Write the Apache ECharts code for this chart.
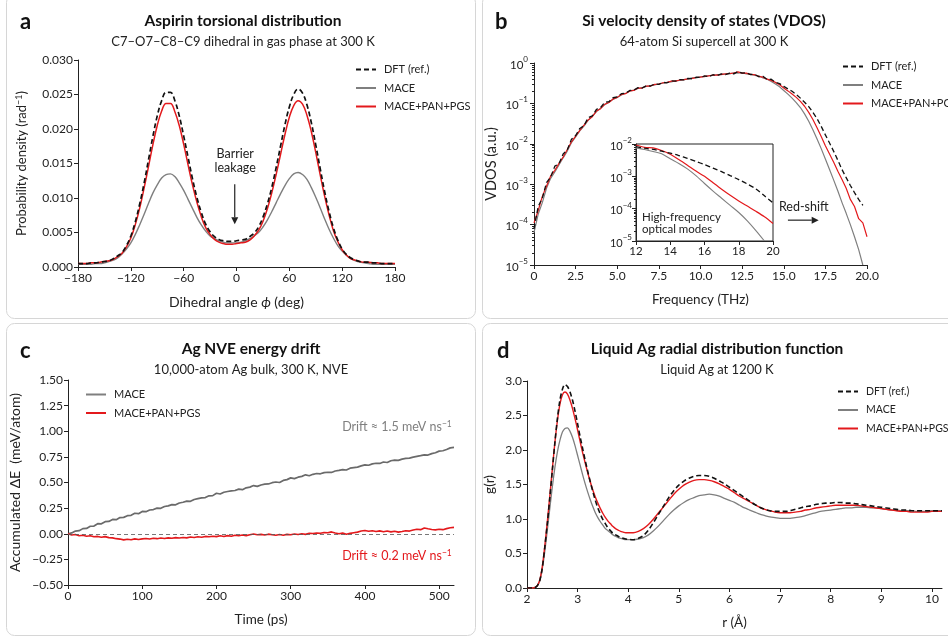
<!DOCTYPE html>
<html><head><meta charset="utf-8">
<script src="https://cdn.jsdelivr.net/npm/echarts@6/dist/echarts.min.js"></script>
<style>html,body{margin:0;padding:0;background:#fff}#c{width:948px;height:641px}</style>
</head><body><div id="c"></div>
<script>
// ---------- Panel a: aspirin torsional distribution ----------
const anglesA = [-180,-175,-170,-165,-160,-155,-150,-145,-140,-135,-130,-125,-120,-115,-110,-105,-100,-95,-90,-85,-80,-75,-70,-65,-60,-55,-50,-45,-40,-35,-30,-25,-20,-15,-10,-5,0,5,10,15,20,25,30,35,40,45,50,55,60,65,70,75,80,85,90,95,100,105,110,115,120,125,130,135,140,145,150,155,160,165,170,175,180];
const dftA = [0.0005,0.0005,0.0005,0.0006,0.0006,0.0007,0.0008,0.0009,0.0012,0.0016,0.0021,0.0031,0.0045,0.0065,0.0091,0.0121,0.0155,0.0189,0.0219,0.0241,0.0253,0.0253,0.0241,0.0219,0.0190,0.0159,0.0128,0.0101,0.0079,0.0062,0.0051,0.0044,0.0040,0.0038,0.0037,0.0037,0.0038,0.0039,0.0040,0.0044,0.0049,0.0058,0.0072,0.0091,0.0115,0.0144,0.0175,0.0206,0.0232,0.0250,0.0258,0.0252,0.0235,0.0209,0.0177,0.0143,0.0110,0.0081,0.0057,0.0039,0.0026,0.0018,0.0013,0.0010,0.0008,0.0007,0.0007,0.0006,0.0006,0.0005,0.0005,0.0005,0.0005];
const maceA = [0.0004,0.0004,0.0004,0.0004,0.0005,0.0005,0.0006,0.0008,0.0010,0.0013,0.0019,0.0026,0.0035,0.0047,0.0061,0.0076,0.0092,0.0107,0.0119,0.0129,0.0134,0.0135,0.0131,0.0122,0.0111,0.0098,0.0085,0.0072,0.0061,0.0052,0.0045,0.0041,0.0038,0.0036,0.0035,0.0035,0.0035,0.0036,0.0038,0.0041,0.0045,0.0050,0.0058,0.0068,0.0080,0.0093,0.0106,0.0118,0.0128,0.0135,0.0137,0.0134,0.0127,0.0115,0.0101,0.0086,0.0070,0.0055,0.0042,0.0031,0.0023,0.0017,0.0012,0.0009,0.0007,0.0006,0.0005,0.0004,0.0004,0.0004,0.0004,0.0004,0.0004];
const panA = [0.0005,0.0005,0.0005,0.0006,0.0006,0.0007,0.0008,0.0009,0.0011,0.0015,0.0020,0.0029,0.0042,0.0061,0.0085,0.0114,0.0145,0.0177,0.0205,0.0226,0.0237,0.0237,0.0225,0.0205,0.0178,0.0148,0.0119,0.0094,0.0073,0.0057,0.0047,0.0040,0.0036,0.0034,0.0033,0.0033,0.0034,0.0035,0.0036,0.0039,0.0045,0.0053,0.0066,0.0084,0.0107,0.0134,0.0163,0.0192,0.0217,0.0234,0.0241,0.0236,0.0220,0.0196,0.0166,0.0134,0.0103,0.0076,0.0053,0.0037,0.0025,0.0017,0.0012,0.0010,0.0008,0.0007,0.0007,0.0006,0.0006,0.0005,0.0005,0.0005,0.0005];

// ---------- Panel b: Si VDOS ----------
const freqB = [0,0.25,0.5,0.75,1,1.25,1.5,1.75,2,2.25,2.5,2.75,3,3.25,3.5,3.75,4,4.25,4.5,4.75,5,5.25,5.5,5.75,6,6.25,6.5,6.75,7,7.25,7.5,7.75,8,8.25,8.5,8.75,9,9.25,9.5,9.75,10,10.25,10.5,10.75,11,11.25,11.5,11.75,12,12.25,12.5,12.75,13,13.25,13.5,13.75,14,14.25,14.5,14.75,15,15.25,15.5,15.75,16,16.25,16.5,16.75,17,17.25,17.5,17.75,18,18.25,18.5,18.75,19,19.25,19.5,19.75,20];
const dftB = [7.9e-5,2.8e-4,4.5e-4,1.1e-3,1.5e-3,2.8e-3,3.2e-3,5.6e-3,7.1e-3,0.013,0.016,0.024,0.028,0.044,0.049,0.071,0.079,0.107,0.110,0.138,0.145,0.174,0.178,0.209,0.214,0.245,0.240,0.275,0.269,0.302,0.295,0.331,0.324,0.363,0.355,0.389,0.380,0.417,0.407,0.447,0.437,0.479,0.457,0.513,0.490,0.537,0.513,0.562,0.537,0.617,0.562,0.575,0.513,0.525,0.457,0.468,0.389,0.398,0.331,0.309,0.263,0.229,0.200,0.166,0.135,0.107,0.083,0.060,0.042,0.027,0.0166,0.0105,0.0065,0.0039,0.0023,0.00145,0.00093,0.00062,0.00042,0.0003,null];
const maceB = [6.3e-5,1.8e-4,3.5e-4,7.9e-4,1.4e-3,2.0e-3,3.0e-3,4.5e-3,6.6e-3,0.0107,0.0148,0.0209,0.0275,0.038,0.0479,0.063,0.0759,0.0933,0.107,0.126,0.141,0.162,0.178,0.200,0.214,0.234,0.245,0.263,0.275,0.288,0.302,0.316,0.331,0.339,0.363,0.372,0.389,0.398,0.427,0.427,0.457,0.457,0.490,0.490,0.513,0.513,0.537,0.537,0.575,0.562,0.575,0.537,0.537,0.490,0.479,0.427,0.398,0.347,0.302,0.257,0.209,0.170,0.135,0.105,0.079,0.055,0.036,0.0224,0.0132,0.0076,0.0042,0.0023,0.00126,0.00068,0.00035,0.00019,0.0001,5.0e-5,2.4e-5,1.0e-5,null];
const panB = [1.1e-4,2.2e-4,5.0e-4,8.9e-4,1.6e-3,2.2e-3,3.3e-3,4.7e-3,7.2e-3,0.0112,0.0155,0.0214,0.0288,0.0389,0.0468,0.0646,0.0741,0.0955,0.105,0.129,0.141,0.166,0.174,0.204,0.209,0.240,0.240,0.269,0.269,0.295,0.302,0.324,0.331,0.355,0.355,0.380,0.389,0.407,0.417,0.437,0.447,0.468,0.479,0.501,0.501,0.525,0.537,0.550,0.562,0.603,0.562,0.562,0.525,0.513,0.468,0.447,0.398,0.372,0.331,0.288,0.240,0.204,0.170,0.141,0.112,0.085,0.060,0.040,0.025,0.0151,0.0089,0.0056,0.0035,0.0021,0.0013,0.00079,0.00042,0.00028,0.00014,0.00011,5.0e-5];
// inset: high-frequency optical modes
const freqInset = [12,12.5,13,13.5,14,14.5,15,15.5,16,16.5,17,17.5,18,18.5,19,19.5,20];
const dftInset = [8.3e-3,7.4e-3,6.8e-3,6.0e-3,5.2e-3,4.4e-3,3.6e-3,2.9e-3,2.3e-3,1.8e-3,1.4e-3,1.05e-3,7.9e-4,5.8e-4,4.1e-4,2.5e-4,1.5e-4];
const maceInset = [7.6e-3,6.8e-3,5.9e-3,5.0e-3,3.5e-3,2.5e-3,1.7e-3,1.05e-3,6.0e-4,3.5e-4,2.1e-4,1.26e-4,7.6e-5,4.2e-5,2.1e-5,1.0e-5,null];
const panInset = [9.3e-3,7.9e-3,7.6e-3,6.3e-3,4.8e-3,3.3e-3,2.2e-3,1.45e-3,1.0e-3,6.3e-4,4.0e-4,2.6e-4,1.74e-4,1.2e-4,8.3e-5,5.6e-5,3.5e-5];

// ---------- Panel c: Ag NVE energy drift ----------
const timeC = [0,5,10,15,20,25,30,35,40,45,50,55,60,65,70,75,80,85,90,95,100,105,110,115,120,125,130,135,140,145,150,155,160,165,170,175,180,185,190,195,200,205,210,215,220,225,230,235,240,245,250,255,260,265,270,275,280,285,290,295,300,305,310,315,320,325,330,335,340,345,350,355,360,365,370,375,380,385,390,395,400,405,410,415,420,425,430,435,440,445,450,455,460,465,470,475,480,485,490,495,500,505,510,515,520];
const maceC = [0.000,0.008,0.026,0.030,0.050,0.052,0.073,0.075,0.098,0.097,0.118,0.120,0.140,0.137,0.158,0.160,0.176,0.180,0.200,0.196,0.218,0.215,0.232,0.236,0.250,0.248,0.266,0.272,0.284,0.282,0.300,0.307,0.318,0.316,0.334,0.342,0.350,0.353,0.370,0.372,0.395,0.388,0.405,0.412,0.418,0.422,0.435,0.430,0.448,0.455,0.470,0.462,0.476,0.484,0.486,0.498,0.505,0.500,0.520,0.528,0.545,0.538,0.552,0.560,0.575,0.566,0.580,0.588,0.585,0.596,0.600,0.598,0.612,0.618,0.625,0.622,0.640,0.645,0.650,0.662,0.672,0.668,0.682,0.688,0.686,0.700,0.695,0.712,0.718,0.716,0.728,0.735,0.738,0.748,0.755,0.762,0.770,0.768,0.782,0.790,0.806,0.810,0.822,0.838,0.842];
const panC = [0.000,-0.012,-0.008,-0.020,-0.015,-0.024,-0.020,-0.030,-0.026,-0.034,-0.028,-0.038,-0.040,-0.048,-0.052,-0.060,-0.054,-0.058,-0.050,-0.056,-0.050,-0.046,-0.052,-0.044,-0.048,-0.042,-0.046,-0.040,-0.044,-0.038,-0.042,-0.036,-0.040,-0.032,-0.036,-0.030,-0.034,-0.026,-0.030,-0.024,-0.028,-0.020,-0.026,-0.018,-0.024,-0.015,-0.020,-0.012,-0.018,-0.010,-0.002,-0.010,-0.006,-0.012,-0.004,-0.010,-0.015,-0.008,-0.014,-0.006,-0.010,-0.002,-0.008,0.000,-0.006,0.004,0.002,0.008,0.004,0.012,0.010,0.018,0.008,0.000,0.006,-0.004,0.004,0.010,0.016,0.026,0.032,0.024,0.030,0.022,0.028,0.020,0.026,0.018,0.024,0.016,0.022,0.030,0.026,0.036,0.044,0.040,0.056,0.048,0.042,0.038,0.044,0.040,0.050,0.058,0.062];

// ---------- Panel d: liquid Ag g(r) ----------
const rD = [2.00,2.05,2.10,2.15,2.20,2.25,2.30,2.35,2.40,2.45,2.50,2.55,2.60,2.65,2.70,2.75,2.80,2.85,2.90,2.95,3.00,3.05,3.10,3.15,3.20,3.25,3.30,3.35,3.40,3.45,3.50,3.55,3.60,3.65,3.70,3.75,3.80,3.85,3.90,3.95,4.00,4.1,4.2,4.3,4.4,4.5,4.6,4.7,4.8,4.9,5.0,5.1,5.2,5.3,5.4,5.5,5.6,5.7,5.8,5.9,6.0,6.1,6.2,6.3,6.4,6.5,6.6,6.7,6.8,6.9,7.0,7.1,7.2,7.3,7.4,7.5,7.6,7.7,7.8,7.9,8.0,8.1,8.2,8.3,8.4,8.5,8.6,8.7,8.8,8.9,9.0,9.1,9.2,9.3,9.4,9.5,9.6,9.7,9.8,9.9,10.0,10.1,10.2];
const dftD = [0,0,0,0.005,0.03,0.10,0.28,0.58,0.92,1.30,1.70,2.10,2.45,2.72,2.88,2.95,2.92,2.84,2.72,2.56,2.38,2.19,2.02,1.85,1.69,1.54,1.40,1.27,1.16,1.07,0.99,0.93,0.87,0.83,0.79,0.77,0.75,0.73,0.72,0.71,0.705,0.70,0.72,0.76,0.84,0.95,1.07,1.19,1.31,1.41,1.49,1.55,1.59,1.62,1.63,1.63,1.62,1.59,1.55,1.51,1.46,1.41,1.36,1.31,1.26,1.21,1.17,1.14,1.12,1.11,1.11,1.11,1.12,1.14,1.16,1.18,1.19,1.21,1.22,1.23,1.23,1.24,1.24,1.23,1.23,1.22,1.21,1.20,1.19,1.18,1.17,1.16,1.15,1.14,1.13,1.13,1.12,1.12,1.12,1.12,1.12,1.12,1.12];
const maceD = [0,0,0,0.005,0.03,0.10,0.27,0.52,0.83,1.15,1.46,1.74,1.97,2.14,2.26,2.31,2.32,2.27,2.18,2.06,1.92,1.78,1.64,1.51,1.39,1.28,1.18,1.09,1.02,0.96,0.91,0.86,0.83,0.80,0.77,0.75,0.73,0.72,0.71,0.70,0.70,0.70,0.71,0.73,0.77,0.83,0.90,0.98,1.06,1.13,1.19,1.24,1.28,1.31,1.34,1.35,1.36,1.35,1.33,1.30,1.27,1.24,1.20,1.16,1.13,1.10,1.07,1.05,1.03,1.02,1.01,1.01,1.01,1.02,1.03,1.05,1.07,1.09,1.11,1.12,1.13,1.14,1.15,1.16,1.16,1.17,1.17,1.17,1.16,1.16,1.15,1.14,1.13,1.13,1.12,1.12,1.12,1.11,1.11,1.11,1.12,1.12,1.12];
const panD = [0,0,0,0.005,0.03,0.11,0.30,0.60,0.95,1.33,1.72,2.10,2.42,2.66,2.80,2.84,2.81,2.72,2.60,2.45,2.29,2.12,1.96,1.81,1.67,1.54,1.42,1.32,1.23,1.15,1.08,1.02,0.97,0.93,0.89,0.86,0.84,0.82,0.81,0.80,0.80,0.80,0.82,0.86,0.92,1.00,1.09,1.18,1.27,1.36,1.43,1.49,1.53,1.56,1.57,1.57,1.56,1.54,1.51,1.47,1.43,1.38,1.33,1.29,1.25,1.21,1.17,1.14,1.12,1.10,1.09,1.09,1.09,1.10,1.11,1.13,1.14,1.16,1.17,1.18,1.19,1.20,1.20,1.20,1.20,1.20,1.19,1.18,1.17,1.16,1.15,1.14,1.13,1.12,1.11,1.11,1.10,1.10,1.10,1.10,1.11,1.11,1.11];

// tick labels
const xTicksC = [0,100,200,300,400,500];
const xTicksD = [2,3,4,5,6,7,8,9,10];

// ---------- styles ----------
const FONT = 'Lato';
const RED = '#e3191c', GRAY = '#7f7f7f', GRAY_C = '#6a6a6a', BLACK = '#111111', TXT = '#222222';
const NAMES = ['DFT (ref.)', 'MACE', 'MACE+PAN+PGS'];
const minus = s => String(s).replace('-', '\u2212');

const chart = echarts.init(document.getElementById('c'), null, {renderer: 'canvas'});
const pairs = (xs, ys) => xs.map((x, i) => [x, ys[i]]);

function axis(gi, o) {
  return Object.assign({
    gridIndex: gi, type: 'value',
    axisLine: {show: true, onZero: false, lineStyle: {color: TXT, width: 1}},
    axisTick: {show: true, length: 4, lineStyle: {color: TXT, width: 1}},
    axisLabel: {color: TXT, fontSize: 12, fontFamily: FONT, margin: 5},
    splitLine: {show: false},
    nameLocation: 'middle',
    nameTextStyle: {color: TXT, fontSize: 13.5, fontFamily: FONT}
  }, o);
}
function line(name, xi, yi, data, color, width, dashed, z, smooth) {
  return {
    type: 'line', name, xAxisIndex: xi, yAxisIndex: yi, data,
    showSymbol: false, symbol: 'none', smooth: smooth || false, z: z || 2,
    lineStyle: {color, width, type: dashed ? [5, 3] : 'solid'},
    itemStyle: {color}, silent: true, animation: false, clip: true
  };
}
const supRich = (size) => ({
  n: {fontSize: size, color: TXT, fontFamily: FONT},
  s: {fontSize: Math.round(size * 0.7), color: TXT, fontFamily: FONT, verticalAlign: 'top'}
});
const logFmt = v => {
  const e = Math.round(Math.log10(v));
  return '{b|10}{s|' + (e < 0 ? '\u2212' + (-e) : e) + '}';
};
const logRich = (size) => ({
  b: {fontSize: size, color: TXT, fontFamily: FONT, verticalAlign: 'bottom', padding: [4, 0, 0, 0]},
  s: {fontSize: Math.round(size * 0.72), color: TXT, fontFamily: FONT, verticalAlign: 'top'}
});

const grids = [
  {left: 78, top: 60, width: 317, height: 207},      // a
  {left: 534, top: 63, width: 333, height: 202},     // b
  {left: 636, top: 144, width: 137, height: 97, show: true, borderColor: TXT, borderWidth: 1, backgroundColor: '#fff', z: 5}, // inset
  {left: 68, top: 380, width: 386, height: 205},     // c
  {left: 527, top: 381, width: 415, height: 207}     // d
];

const xAxes = [
  axis(0, {min: -180, max: 180, interval: 60, axisLabel: {color: TXT, fontSize: 12, fontFamily: FONT, margin: 5, formatter: minus},
    name: '{n|Dihedral angle }{i|\u03d5}{n| (deg)}', nameGap: 28,
    nameTextStyle: {rich: {n: {fontSize: 14, color: TXT, fontFamily: FONT}, i: {fontSize: 14, color: TXT, fontFamily: FONT, fontStyle: 'italic'}}}}),
  axis(1, {min: 0, max: 20, interval: 2.5, axisLabel: {color: TXT, fontSize: 12, fontFamily: FONT, margin: 5, formatter: v => v === 0 ? '0' : v.toFixed(1)},
    name: 'Frequency (THz)', nameGap: 28}),
  axis(2, {min: 12, max: 20, interval: 2, z: 6, axisLabel: {color: TXT, fontSize: 11.5, fontFamily: FONT, margin: 4}}),
  axis(3, {min: 0, max: 520, axisTick: {show: true, length: 4, lineStyle: {color: TXT}, customValues: xTicksC},
    axisLabel: {color: TXT, fontSize: 12, fontFamily: FONT, margin: 5, customValues: xTicksC},
    name: 'Time (ps)', nameGap: 28}),
  axis(4, {min: 2, max: 10.2, axisTick: {show: true, length: 4, lineStyle: {color: TXT}, customValues: xTicksD},
    axisLabel: {color: TXT, fontSize: 12, fontFamily: FONT, margin: 5, customValues: xTicksD},
    name: 'r (\u00c5)', nameGap: 28})
];
const yAxes = [
  axis(0, {min: 0, max: 0.03, interval: 0.005, axisLabel: {color: TXT, fontSize: 12, fontFamily: FONT, margin: 5, formatter: v => v.toFixed(3)},
    name: '{n|Probability density (rad}{s|\u22121}{n|)}', nameGap: 50, nameTextStyle: {rich: supRich(13)}}),
  axis(1, {type: 'log', logBase: 10, min: 1e-5, max: 1,
    axisLabel: {formatter: logFmt, rich: logRich(11.5), margin: 6},
    minorTick: {show: true, splitNumber: 9, length: 2, lineStyle: {color: TXT}},
    name: 'VDOS (a.u.)', nameGap: 35, nameTextStyle: {color: TXT, fontSize: 14.5, fontFamily: FONT}}),
  axis(2, {type: 'log', logBase: 10, min: 1e-5, max: 1e-2, z: 6,
    axisLabel: {formatter: logFmt, rich: logRich(11), margin: 4},
    minorTick: {show: true, splitNumber: 9, length: 2, lineStyle: {color: TXT}}}),
  axis(3, {min: -0.5, max: 1.5, interval: 0.25, axisLabel: {color: TXT, fontSize: 12, fontFamily: FONT, margin: 5, formatter: v => minus(v.toFixed(2))},
    name: 'Accumulated \u0394E  (meV/atom)', nameGap: 46, nameTextStyle: {color: TXT, fontSize: 14, fontFamily: FONT}}),
  axis(4, {min: 0, max: 3, interval: 0.5, axisLabel: {color: TXT, fontSize: 12, fontFamily: FONT, margin: 5, formatter: v => v.toFixed(1)},
    name: 'g(r)', nameGap: 30})
];

const series = [
  // a
  line(NAMES[1], 0, 0, pairs(anglesA, maceA), GRAY, 1.4, false, 2, 0.4),
  line(NAMES[2], 0, 0, pairs(anglesA, panA), RED, 1.5, false, 3, 0.4),
  line(NAMES[0], 0, 0, pairs(anglesA, dftA), BLACK, 1.7, true, 4, 0.4),
  // b
  line(NAMES[1], 1, 1, pairs(freqB, maceB), GRAY, 1.2, false, 2),
  line(NAMES[2], 1, 1, pairs(freqB, panB), RED, 1.2, false, 3),
  line(NAMES[0], 1, 1, pairs(freqB, dftB), BLACK, 1.3, true, 4),
  // inset
  line(NAMES[1], 2, 2, pairs(freqInset, maceInset), GRAY, 1.1, false, 7, 0.3),
  line(NAMES[2], 2, 2, pairs(freqInset, panInset), RED, 1.2, false, 8, 0.3),
  line(NAMES[0], 2, 2, pairs(freqInset, dftInset), BLACK, 1.3, true, 9, 0.3),
  // c
  Object.assign(line(NAMES[1], 3, 3, pairs(timeC, maceC), GRAY_C, 1.7, false, 3), {
    markLine: {silent: true, symbol: 'none', label: {show: false}, animation: false,
      lineStyle: {color: '#555', width: 0.8, type: [4, 3]}, data: [{yAxis: 0}]}
  }),
  line(NAMES[2], 3, 3, pairs(timeC, panC), RED, 1.6, false, 4),
  // d
  line(NAMES[1], 4, 4, pairs(rD, maceD), GRAY, 1.3, false, 2, 0.3),
  line(NAMES[2], 4, 4, pairs(rD, panD), RED, 1.4, false, 3, 0.3),
  line(NAMES[0], 4, 4, pairs(rD, dftD), BLACK, 1.6, true, 4, 0.3)
];

function leg(data, left, top, fs) {
  return {data, left, top, orient: 'vertical', itemWidth: 20, itemHeight: 10, itemGap: 7.5, padding: 0,
    selectedMode: false, itemStyle: {opacity: 0},
    textStyle: {fontSize: fs || 11, color: TXT, fontFamily: FONT, padding: [0, 0, 0, 3]}};
}
const legends = [
  leg(NAMES, 355, 64),
  leg(NAMES, 842, 61),
  leg([NAMES[1], NAMES[2]], 85, 389),
  leg(NAMES, 837, 386, 10.5)
];

function ttl(text, sub, cx, top) {
  return {text, subtext: sub, left: cx, top, textAlign: 'center', itemGap: 6,
    textStyle: {fontSize: 15.5, fontWeight: 'bold', color: '#111', fontFamily: FONT},
    subtextStyle: {fontSize: 13, color: TXT, fontFamily: FONT}};
}
function letter(t, x, y) {
  return {text: t, left: x, top: y, textStyle: {fontSize: 22, fontWeight: 'bold', color: '#111', fontFamily: FONT}};
}
const titles = [
  ttl('Aspirin torsional distribution', 'C7\u2013O7\u2013C8\u2013C9 dihedral in gas phase at 300 K', 238, 8),
  ttl('Si velocity density of states (VDOS)', '64-atom Si supercell at 300 K', 699, 8),
  ttl('Ag NVE energy drift', '10,000-atom Ag bulk, 300 K, NVE', 246, 336),
  ttl('Liquid Ag radial distribution function', 'Liquid Ag at 1200 K', 712, 336),
  letter('a', 15, 6), letter('b', 490, 6), letter('c', 15, 335), letter('d', 492, 335)
];

const panelBoxes = [
  [6, -6, 469, 324], [482, -6, 480, 324], [6, 323, 469, 312], [482, 323, 480, 312]
].map(b => ({type: 'rect', shape: {x: b[0] + 0.5, y: b[1] + 0.5, width: b[2], height: b[3], r: 8},
  style: {fill: 'none', stroke: '#d6d6d6', lineWidth: 1}, z: -10, silent: true}));

chart.setOption({
  animation: false,
  textStyle: {fontFamily: FONT},
  title: titles,
  legend: legends,
  grid: grids,
  xAxis: xAxes,
  yAxis: yAxes,
  series,
  graphic: panelBoxes
});

// ---------- annotations positioned in data coordinates ----------
const P = (gi, x, y) => chart.convertToPixel({gridIndex: gi}, [x, y]);
function arrow(p0, p1, color) {
  const dx = p1[0] - p0[0], dy = p1[1] - p0[1];
  const L = Math.hypot(dx, dy), ux = dx / L, uy = dy / L;
  const hl = 7, hw = 3.5;
  const bx = p1[0] - ux * hl, by = p1[1] - uy * hl;
  return [
    {type: 'line', shape: {x1: p0[0], y1: p0[1], x2: bx, y2: by}, style: {stroke: color, lineWidth: 1.2}, z: 20, silent: true},
    {type: 'polygon', shape: {points: [[p1[0], p1[1]], [bx - uy * hw, by + ux * hw], [bx + uy * hw, by - ux * hw]]},
      style: {fill: color}, z: 20, silent: true}
  ];
}
function txt(p, text, opts) {
  return Object.assign({type: 'text', x: p[0], y: p[1], z: 20, silent: true,
    style: Object.assign({text, fontSize: 12.5, fontFamily: FONT, fill: TXT, align: 'center', verticalAlign: 'middle', lineHeight: 14.5}, opts || {})});
}
const ann = [];
ann.push(txt(P(0, -1.5, 0.01535), 'Barrier\nleakage'));
ann.push(...arrow(P(0, -2, 0.0120), P(0, -2, 0.0062), TXT));
ann.push(txt(P(1, 16.2, Math.pow(10, -3.57)), 'Red-shift'));
ann.push(...arrow(P(1, 15.25, Math.pow(10, -3.89)), P(1, 17.1, Math.pow(10, -3.89)), TXT));
ann.push(txt(P(2, 12.35, Math.pow(10, -4.45)), 'High-frequency\noptical modes', {align: 'left', fontSize: 11.5, lineHeight: 12.5}));
ann.push(txt(P(3, 517, 1.04), '{a|Drift \u2248 1.5 meV ns}{s|\u22121}', {align: 'right',
  rich: {a: {fontSize: 12.5, fill: GRAY, fontFamily: FONT}, s: {fontSize: 8.5, fill: GRAY, fontFamily: FONT, verticalAlign: 'top'}}}));
ann.push(txt(P(3, 517, -0.217), '{a|Drift \u2248 0.2 meV ns}{s|\u22121}', {align: 'right',
  rich: {a: {fontSize: 12.5, fill: RED, fontFamily: FONT}, s: {fontSize: 8.5, fill: RED, fontFamily: FONT, verticalAlign: 'top'}}}));
chart.setOption({graphic: panelBoxes.concat(ann)}, {replaceMerge: ['graphic']});
</script>
</body></html>
